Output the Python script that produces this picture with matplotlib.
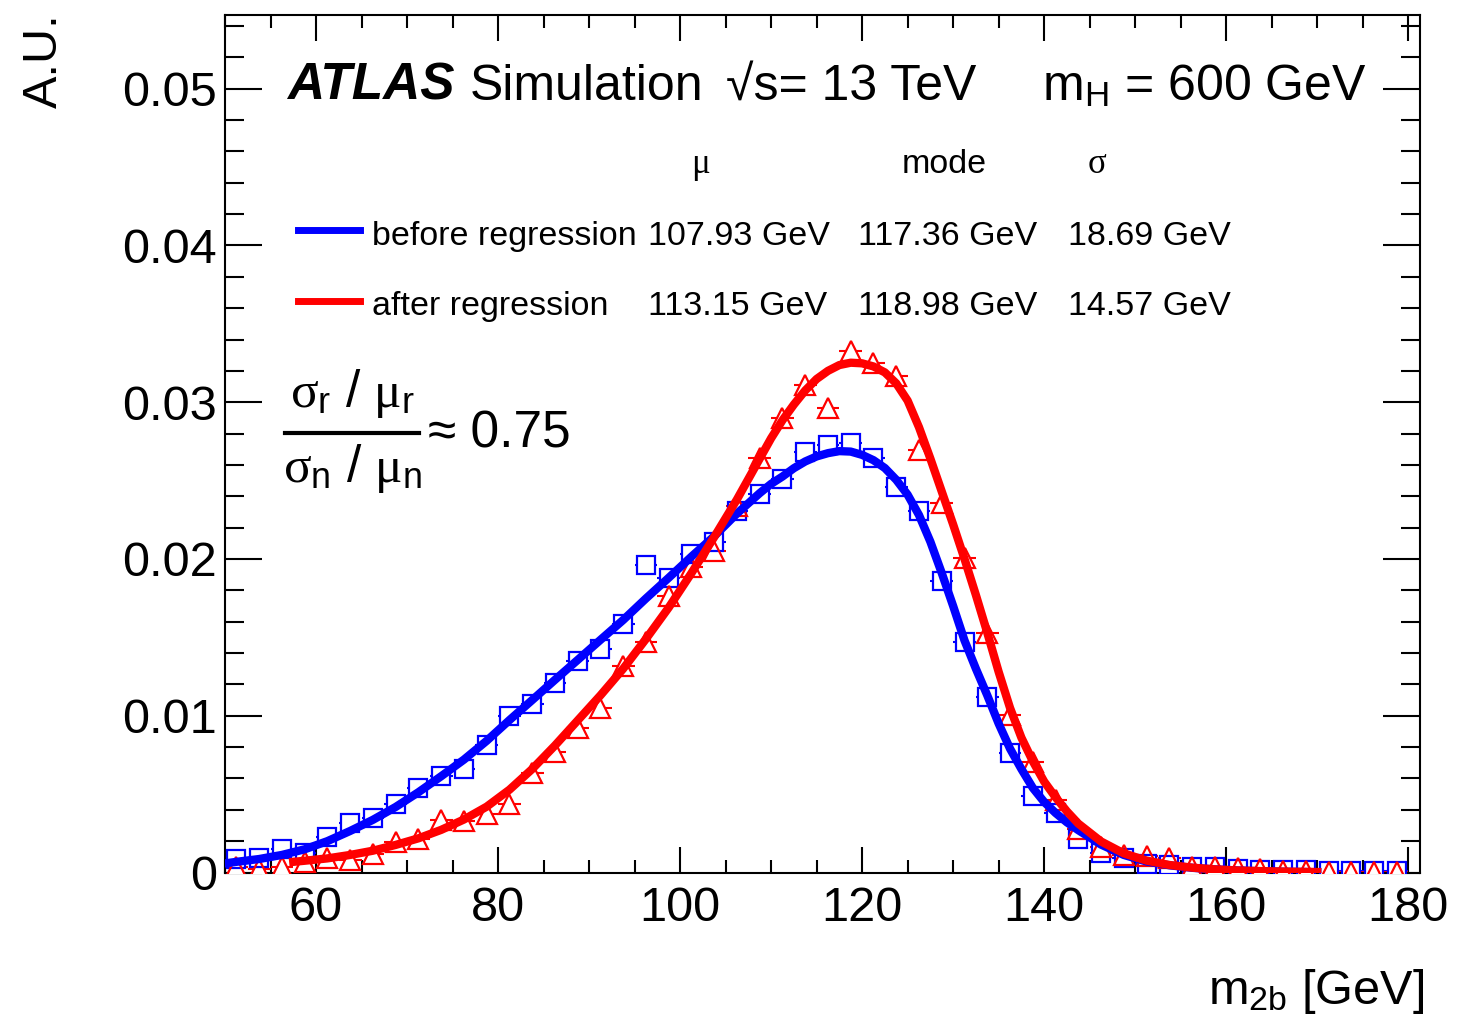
import matplotlib
matplotlib.use('Agg')
import matplotlib.pyplot as plt
from matplotlib.lines import Line2D
from matplotlib.ticker import MultipleLocator, FuncFormatter
import numpy as np

plt.rcParams['font.family'] = ['Liberation Sans', 'DejaVu Sans']
plt.rcParams['mathtext.fontset'] = 'custom'
plt.rcParams['mathtext.rm'] = 'Liberation Sans'
plt.rcParams['mathtext.sf'] = 'Liberation Sans'
plt.rcParams['mathtext.it'] = 'Liberation Serif'

BLUE = '#0000ff'
RED = '#ff0000'

# histogram binning: 2.5 GeV bins from 50 to 180 GeV
bin_centers = np.arange(51.25, 180.0, 2.5)

# normalised m_2b before regression (open squares)
before_vals = [0.00088, 0.00090, 0.00148, 0.00122, 0.00229, 0.00318, 0.00346, 0.00439,
               0.00541, 0.00616, 0.00662, 0.00814, 0.01000, 0.01075, 0.01207, 0.01350,
               0.01428, 0.01586, 0.01962, 0.01879, 0.02031, 0.02111, 0.02309, 0.02415,
               0.02510, 0.02680, 0.02724, 0.02739, 0.02647, 0.02462, 0.02307, 0.01862,
               0.01469, 0.01118, 0.00765, 0.00490, 0.00378, 0.00212, 0.00123, 0.00091,
               0.00054, 0.00048, 0.00037, 0.00033, 0.00020, 0.00017, 0.00015, 0.00015,
               0.00010, 0.00010, 0.00010, 0.00010]

# normalised m_2b after regression (open triangles)
after_vals = [0.00037, 0.00020, 0.00037, 0.00070, 0.00090, 0.00080, 0.00118, 0.00193,
              0.00214, 0.00335, 0.00330, 0.00373, 0.00437, 0.00635, 0.00771, 0.00920,
              0.01048, 0.01320, 0.01473, 0.01765, 0.01948, 0.02054, 0.02335, 0.02645,
              0.02899, 0.03111, 0.02962, 0.03324, 0.03250, 0.03168, 0.02692, 0.02356,
              0.02009, 0.01527, 0.01005, 0.00707, 0.00463, 0.00276, 0.00165, 0.00112,
              0.00105, 0.00090, 0.00037, 0.00037, 0.00027, 0.00020, 0.00010, 0.00010,
              0.00005, 0.00004, 0.00004, 0.00004]

# fitted curves
blue_fit_x = [50, 51.25, 53.75, 56.25, 58.75, 61.25, 63.75, 66.25, 68.75, 71.25, 73.75,
              76.25, 78.75, 81.25, 83.75, 86.25, 88.75, 91.25, 93.75, 96.25, 98.75,
              101.25, 103.75, 106.25, 108.75, 110, 111.25, 112.5, 113.75, 115, 116.25,
              117.5, 118.75, 120, 121.25, 122.5, 123.75, 125, 126.25, 127.5, 128.75,
              130, 131.25, 132.5, 133.75, 135, 136.25, 137.5, 138.75, 140, 141.25,
              142.5, 143.75, 146.25, 148.75, 151.25, 153.75, 156.25, 158.75, 161.25,
              163.75, 166.25, 170]
blue_fit = [0.00058, 0.00068, 0.00086, 0.00112, 0.00148, 0.00200, 0.00265, 0.00336,
            0.00418, 0.00512, 0.00614, 0.00720, 0.00840, 0.00972, 0.01100, 0.01229,
            0.01356, 0.01484, 0.01611, 0.01748, 0.01880, 0.02015, 0.02145, 0.02290,
            0.02420, 0.02479, 0.02526, 0.02579, 0.02622, 0.02654, 0.02675, 0.02688,
            0.02685, 0.02664, 0.02630, 0.02580, 0.02505, 0.02410, 0.02280, 0.02110,
            0.01910, 0.01700, 0.01480, 0.01300, 0.01130, 0.00950, 0.00790, 0.00660,
            0.00540, 0.00450, 0.00380, 0.00320, 0.00270, 0.00178, 0.00112, 0.00070,
            0.00046, 0.00030, 0.00020, 0.00013, 0.00008, 0.00005, 0.00002]
red_fit_x = [57.5, 58.75, 61.25, 63.75, 66.25, 68.75, 71.25, 73.75, 76.25, 78.75, 81.25,
             83.75, 86.25, 88.75, 91.25, 93.75, 96.25, 98.75, 101.25, 103.75, 106.25,
             108.75, 110, 111.25, 112.5, 113.75, 115, 116.25, 117.5, 118.75, 120,
             121.25, 122.5, 123.75, 125, 126.25, 127.5, 128.75, 130, 131.25, 132.5,
             133.75, 135, 136.25, 137.5, 138.75, 140, 141.25, 142.5, 143.75, 146.25,
             148.75, 151.25, 153.75, 156.25, 158.75, 161.25, 163.75, 166.25, 170]
red_fit = [0.00068, 0.00075, 0.00090, 0.00112, 0.00139, 0.00176, 0.00218, 0.00272,
           0.00338, 0.00420, 0.00528, 0.00660, 0.00810, 0.00970, 0.01130, 0.01300,
           0.01490, 0.01690, 0.01910, 0.02140, 0.02380, 0.02640, 0.02770, 0.02885,
           0.02985, 0.03075, 0.03148, 0.03200, 0.03237, 0.03252, 0.03248, 0.03228,
           0.03190, 0.03120, 0.03010, 0.02840, 0.02640, 0.02430, 0.02220, 0.02000,
           0.01770, 0.01530, 0.01280, 0.01050, 0.00860, 0.00710, 0.00580, 0.00480,
           0.00390, 0.00312, 0.00198, 0.00122, 0.00076, 0.00048, 0.00031, 0.00020,
           0.00013, 0.00009, 0.00006, 0.00003]

# fit summary table
row_labels = ['before regression', 'after regression']
stat_mu = ['107.93 GeV', '113.15 GeV']
stat_mode = ['117.36 GeV', '118.98 GeV']
stat_sigma = ['18.69 GeV', '14.57 GeV']

W, H = 1476, 1021
fig = plt.figure(figsize=(W / 100, H / 100), dpi=100)
ax = fig.add_axes([225 / W, 1 - 872.5 / H, (1419.6 - 225) / W, (872.5 - 15) / H])


def fx(px):
    return px / W


def fy(py):
    return 1 - py / H


# error bars, white masks, then open markers, then fits on top
for vals, col in ((before_vals, BLUE), (after_vals, RED)):
    ax.errorbar(bin_centers, vals, xerr=1.25, yerr=0.0006, fmt='none',
                ecolor=col, elinewidth=1.5, capsize=0, zorder=2)
ax.plot(bin_centers, before_vals, ls='none', marker='s', ms=13, mfc='white', mec='none', zorder=3)
ax.plot(bin_centers, after_vals, ls='none', marker='^', ms=14, mfc='white', mec='none', zorder=3)
ax.plot(bin_centers, before_vals, ls='none', marker='s', ms=13, mfc='none', mec=BLUE, mew=1.6, zorder=4)
ax.plot(bin_centers, after_vals, ls='none', marker='^', ms=14, mfc='none', mec=RED, mew=1.6, zorder=4)
ax.plot(blue_fit_x, blue_fit, color=BLUE, lw=6, zorder=5, solid_joinstyle='round')
ax.plot(red_fit_x, red_fit, color=RED, lw=6, zorder=6, solid_joinstyle='round')

ax.set_xlim(50, 181.25)
ax.set_ylim(0, 0.0547)
ax.xaxis.set_major_locator(MultipleLocator(20))
ax.xaxis.set_minor_locator(MultipleLocator(5))
ax.yaxis.set_major_locator(MultipleLocator(0.01))
ax.yaxis.set_minor_locator(MultipleLocator(0.002))
ax.yaxis.set_major_formatter(FuncFormatter(lambda v, p: '0' if abs(v) < 1e-9 else '%.2f' % v))
ax.tick_params(which='both', direction='in', top=True, right=True, width=1.5,
               labelsize=35, colors='black')
ax.tick_params(axis='y', which='major', length=26.5, pad=6)
ax.tick_params(axis='y', which='minor', length=13.5)
ax.tick_params(axis='x', which='major', length=18.5, pad=10)
ax.tick_params(axis='x', which='minor', length=9.5)
for sp in ax.spines.values():
    sp.set_linewidth(1.5)

fig.text(fx(44), fy(13), 'A.U.', rotation=90, ha='center', va='top', fontsize=35)
fig.text(fx(1424), fy(1004), r'm$_{\rm 2b}$ [GeV]', ha='right', va='baseline', fontsize=35)

# header
fig.text(fx(287), fy(100), 'ATLAS', fontsize=37, fontweight='bold', fontstyle='italic', va='baseline')
fig.text(fx(470), fy(100), 'Simulation', fontsize=36, va='baseline')
fig.text(fx(726), fy(100), '\u221as= 13 TeV', fontsize=36, va='baseline')
fig.text(fx(1042), fy(100), r'm$_{\rm H}$ = 600 GeV', fontsize=36, va='baseline')

# fit summary legend
fig.text(fx(700), fy(173), '\u03bc', fontsize=25, family='Liberation Serif', ha='center', va='baseline')
fig.text(fx(902), fy(173), 'mode', fontsize=24.5, va='baseline')
fig.text(fx(1097), fy(173), '\u03c3', fontsize=25, family='Liberation Serif', ha='center', va='baseline')
for i, (col, base, mid) in enumerate(((BLUE, 245, 230), (RED, 315, 301))):
    fig.add_artist(Line2D([fx(298), fx(360)], [fy(mid), fy(mid)], color=col, lw=5))
    fig.text(fx(372), fy(base), row_labels[i], fontsize=24.5, va='baseline')
    fig.text(fx(648), fy(base), stat_mu[i], fontsize=24.5, va='baseline')
    fig.text(fx(858), fy(base), stat_mode[i], fontsize=24.5, va='baseline')
    fig.text(fx(1068), fy(base), stat_sigma[i], fontsize=24.5, va='baseline')

# relative resolution ratio
fig.text(fx(352), fy(407), r'$\sigma_{\rm r}$ / $\mu_{\rm r}$', fontsize=37, ha='center', va='baseline')
fig.add_artist(Line2D([fx(285), fx(419)], [fy(433), fy(433)], color='black', lw=3))
fig.text(fx(352), fy(482), r'$\sigma_{\rm n}$ / $\mu_{\rm n}$', fontsize=37, ha='center', va='baseline')
fig.text(fx(428), fy(448), '\u2248 0.75', fontsize=37, va='baseline')

fig.savefig('out.png', dpi=100)
